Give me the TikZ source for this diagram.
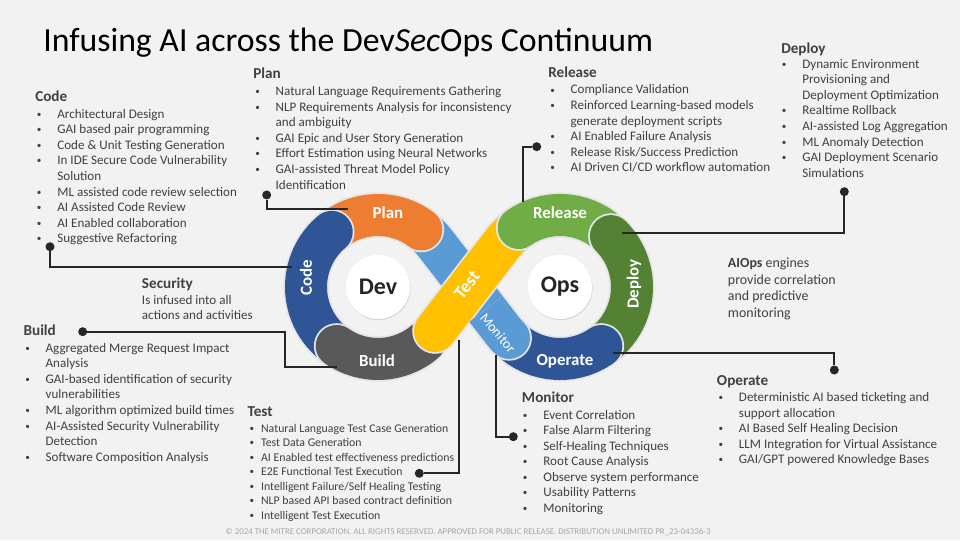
\documentclass[tikz,border=0pt]{standalone}
\usepackage{fontspec}
\setmainfont{Carlito}
\usepackage{tikz}
\usetikzlibrary{positioning,calc,shadows}
\definecolor{bgc}{HTML}{F2F2F2}
\definecolor{txt}{HTML}{404040}
\definecolor{planc}{HTML}{ED7D31}
\definecolor{codec}{HTML}{2F5597}
\definecolor{buildc}{HTML}{595959}
\definecolor{testc}{HTML}{FFC000}
\definecolor{monc}{HTML}{5B9BD5}
\definecolor{relc}{HTML}{70AD47}
\definecolor{depc}{HTML}{548235}
\definecolor{opc}{HTML}{2F5597}
\definecolor{edgec}{HTML}{E6E6E6}
\definecolor{footc}{HTML}{A6A6A6}
\newcommand{\smbul}{\raisebox{0.7pt}{\fontsize{6.5}{6.5}\selectfont\textbullet}}
\newcommand{\itm}{\makebox[14.5pt][l]{\smbul}}
\newcommand{\cnt}{\hspace*{14.5pt}}
\newcommand{\itmt}{\makebox[8.2pt][l]{\smbul}}
\newcommand{\blist}[1]{\begin{tabular}[t]{@{}l@{}}#1\end{tabular}}
\tikzset{>=latex,
  band/.style={line width=1.05cm, line cap=round, draw=#1,
    preaction={draw=edgec, line width=1.14cm, line cap=round}},
  hub/.style={circle, fill=white, minimum size=1.6cm, inner sep=0,
    font=\fontsize{17}{20}\selectfont\bfseries, text=black!85,
    drop shadow={opacity=0.25, shadow xshift=0.4pt, shadow yshift=-0.8pt}},
  blab/.style={text=white, inner sep=0, font=\fontsize{12}{14}\selectfont\bfseries},
  head/.style={anchor=base west, inner sep=0, text=txt, font=\fontsize{10.8}{13}\selectfont\bfseries},
  lst/.style={anchor=base west, inner sep=0, text=txt, font=\fontsize{9.3}{11.06}\selectfont},
  lead/.style={draw=black!85, line width=1.3pt},
  dot/.style={circle, fill=black!85, inner sep=0, minimum size=0.225cm}
}
\begin{document}
\begin{tikzpicture}[x=0.025cm, y=0.025cm]
  \fill[bgc] (0,0) rectangle (960,540);
  \useasboundingbox (0,0) rectangle (960,540);
  \node[anchor=base west, inner sep=0, font=\fontsize{24}{28}\selectfont] (title) at (43,488) {Infusing AI across the Dev\textit{Sec}Ops Continuum};

  \coordinate (devc) at (378,253);
  \coordinate (opsc) at (560,253);
  \draw[band=monc] (devc) ++(55:72) arc[start angle=55, end angle=37.7, radius=72] -- (503,209) arc[start angle=217.7, end angle=225, radius=72];
  \draw[band=planc] (devc) ++(130:72) arc[start angle=130, end angle=53, radius=72];
  \draw[band=codec] (devc) ++(235:72) arc[start angle=235, end angle=130, radius=72];
  \draw[band=buildc] (devc) ++(310:72) arc[start angle=310, end angle=235, radius=72];
  \draw[band=testc] (435,209) -- (503,297) arc[start angle=142.3, end angle=120, radius=72];
  \draw[band=relc] (opsc) ++(55:72) arc[start angle=55, end angle=125, radius=72];
  \draw[band=depc] (opsc) ++(-50:72) arc[start angle=-50, end angle=45, radius=72];
  \draw[band=opc] (opsc) ++(225:72) arc[start angle=225, end angle=305, radius=72];
  \draw[line width=1.14cm, draw=edgec] (486,231) -- (503,209) arc[start angle=217.7, end angle=225, radius=72];
  \fill[edgec] (509.1,202.1) circle (22.8);
  \draw[line width=1.05cm, draw=monc] (486,231) -- (503,209) arc[start angle=217.7, end angle=225, radius=72];
  \fill[monc] (509.1,202.1) circle (21);

  \node[hub] (dev) at (devc) {Dev};
  \node[hub] (ops) at (opsc) {Ops};
  \node[blab] (planl) at (388,327) {Plan};
  \node[blab, rotate=90] (codel) at (306,262) {Code};
  \node[blab] (buildl) at (377,179) {Build};
  \node[blab, rotate=52, font=\fontsize{13}{15}\selectfont\bfseries] (testl) at (467,255) {Test};
  \node[blab, rotate=-50, font=\fontsize{10}{12}\selectfont] (monl) at (498,207) {Monitor};
  \node[blab] (rell) at (560,327) {Release};
  \node[blab, rotate=90] (depl) at (634,256) {Deploy};
  \node[blab] (opl) at (565,179) {Operate};

  \node[dot] (plandot) at (266.7,345) {};
  \node[dot] (codedot) at (50,293.3) {};
  \node[dot] (builddot) at (82.7,208.3) {};
  \node[dot] (testdot) at (419.3,66.7) {};
  \node[dot] (mondot) at (513.3,103.3) {};
  \node[dot] (opdot) at (834.3,170) {};
  \node[dot] (depdot) at (844.3,348.3) {};
  \node[dot] (reldot) at (536.7,393.3) {};
  \coordinate (planend) at (347.7,331);
  \coordinate (codeend) at (291.7,272.7);
  \coordinate (buildbend) at (285,208.3);
  \coordinate (buildend) at (337.3,173.3);
  \coordinate (testend) at (459,200);
  \coordinate (monend) at (496,185);
  \coordinate (opend) at (613.3,186.7);
  \coordinate (depend) at (621.7,306.7);
  \coordinate (relend) at (522.7,338.3);
  \draw[lead] (plandot) |- (planend);
  \draw[lead] (codedot) |- (codeend);
  \draw[lead] (builddot) -- (buildbend) |- (buildend);
  \draw[lead] (testend) |- (testdot);
  \draw[lead] (monend) |- (mondot);
  \draw[lead] (opend) -| (opdot);
  \draw[lead] (depend) -| (depdot);
  \draw[lead] (relend) |- (reldot);

  \node[head] (codeh) at (35,438.3) {Code};
  \node[lst] (codet) at (36.7,421.7) {\blist{\itm Architectural Design\\ \itm GAI based pair programming\\ \itm Code \& Unit Testing Generation\\ \itm In IDE Secure Code Vulnerability\\ \cnt Solution\\ \itm ML assisted code review selection\\ \itm AI Assisted Code Review\\ \itm AI Enabled collaboration\\ \itm Suggestive Refactoring}};
  \node[head] (planh) at (253,461) {Plan};
  \node[lst] (plant) at (255,444.3) {\blist{\itm Natural Language Requirements Gathering\\ \itm NLP Requirements Analysis for inconsistency\\ \cnt and ambiguity\\ \itm GAI Epic and User Story Generation\\ \itm Effort Estimation using Neural Networks\\ \itm GAI-assisted Threat Model Policy\\ \cnt Identification}};
  \node[head] (relh) at (548,462.7) {Release};
  \node[lst] (relt) at (550,446) {\blist{\itm Compliance Validation\\ \itm Reinforced Learning-based models\\ \cnt generate deployment scripts\\ \itm AI Enabled Failure Analysis\\ \itm Release Risk/Success Prediction\\ \itm AI Driven CI/CD workflow automation}};
  \node[head] (deph) at (781,486.7) {Deploy};
  \node[lst] (dept) at (781.7,471.7) {\blist{\itm Dynamic Environment\\ \cnt Provisioning and\\ \cnt Deployment Optimization\\ \itm Realtime Rollback\\ \itm AI-assisted Log Aggregation\\ \itm ML Anomaly Detection\\ \itm GAI Deployment Scenario\\ \cnt Simulations}};
  \node[head] (sech) at (141.7,251.7) {Security};
  \node[lst] (sect) at (141.7,235.7) {\blist{Is infused into all\\ actions and activities}};
  \node[head] (buildh) at (23.3,204.3) {Build};
  \node[lst] (buildt) at (25,187.7) {\blist{\itm Aggregated Merge Request Impact\\ \cnt Analysis\\ \itm GAI-based identification of security\\ \cnt vulnerabilities\\ \itm ML algorithm optimized build times\\ \itm AI-Assisted Security Vulnerability\\ \cnt Detection\\ \itm Software Composition Analysis}};
  \node[head] (testh) at (247.3,123.3) {Test};
  \node[lst, font=\fontsize{8.4}{10.3}\selectfont] (testt) at (249.3,107.7) {\blist{\itmt Natural Language Test Case Generation\\ \itmt Test Data Generation\\ \itmt AI Enabled test effectiveness predictions\\ \itmt E2E Functional Test Execution\\ \itmt Intelligent Failure/Self Healing Testing\\ \itmt NLP based API based contract definition\\ \itmt Intelligent Test Execution}};
  \node[head] (monh) at (521.7,137.7) {Monitor};
  \node[lst] (mont) at (522.7,121) {\blist{\itm Event Correlation\\ \itm False Alarm Filtering\\ \itm Self-Healing Techniques\\ \itm Root Cause Analysis\\ \itm Observe system performance\\ \itm Usability Patterns\\ \itm Monitoring}};
  \node[head] (oph) at (716.7,154.3) {Operate};
  \node[lst] (opt) at (718.3,138.3) {\blist{\itm Deterministic AI based ticketing and\\ \cnt support allocation\\ \itm AI Based Self Healing Decision\\ \itm LLM Integration for Virtual Assistance\\ \itm GAI/GPT powered Knowledge Bases}};
  \node[lst, font=\fontsize{9.9}{11.7}\selectfont] (aiops) at (727.7,272.3) {\blist{\textbf{AIOps} engines\\ provide correlation\\ and predictive\\ monitoring}};
  \node[anchor=base, inner sep=0, text=footc, font=\fontsize{6.3}{7.5}\selectfont] (foot) at (468,6) {\textcopyright{} 2024 THE MITRE CORPORATION. ALL RIGHTS RESERVED. APPROVED FOR PUBLIC RELEASE. DISTRIBUTION UNLIMITED PR\_23-04336-3};
\end{tikzpicture}
\end{document}
